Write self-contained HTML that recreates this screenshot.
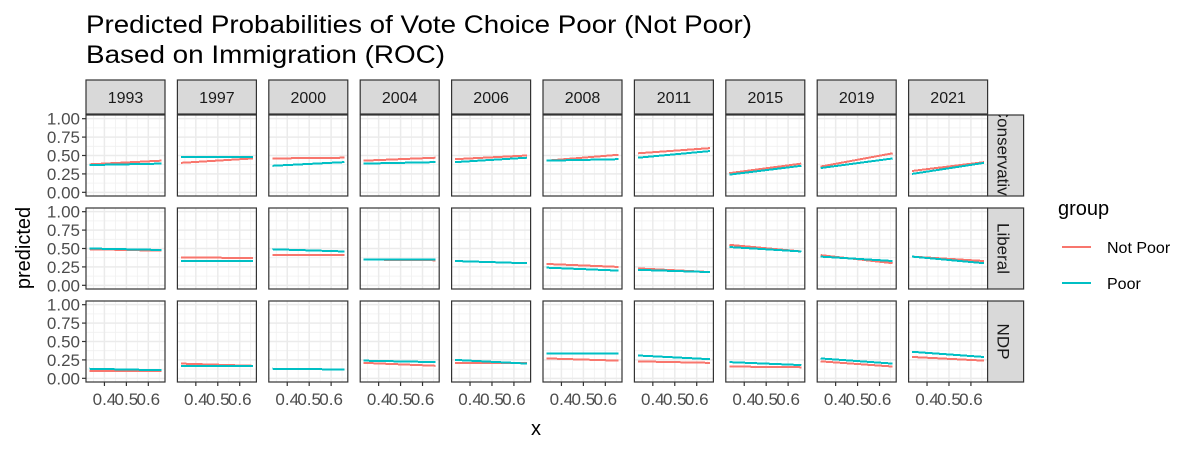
<!DOCTYPE html>
<html><head><meta charset="utf-8"><style>
body{margin:0;background:#fff;}
svg{display:block;font-family:"Liberation Sans",Arial,sans-serif;}
</style></head><body>
<svg id="chart" width="1200" height="450" viewBox="0 0 1200 450">
<text x="86" y="33" font-size="25" textLength="666" lengthAdjust="spacingAndGlyphs" fill="#000">Predicted Probabilities of Vote Choice Poor (Not Poor)</text>
<text x="86" y="63" font-size="25" textLength="359" lengthAdjust="spacingAndGlyphs" fill="#000">Based on Immigration (ROC)</text>
<text transform="translate(30,248) rotate(-90)" text-anchor="middle" font-size="20">predicted</text>
<text x="536" y="435" text-anchor="middle" font-size="20">x</text>
<g id="panels"></g>
<g>
<text x="1058" y="215" font-size="20">group</text>
<line x1="1062" x2="1091" y1="247" y2="247" stroke="#F8766D" stroke-width="2"/>
<text x="1107" y="253" font-size="16">Not Poor</text>
<line x1="1062" x2="1091" y1="283" y2="283" stroke="#00BFC4" stroke-width="2"/>
<text x="1107" y="289" font-size="16">Poor</text>
</g>
</svg>
<script>
const years = ["1993","1997","2000","2004","2006","2008","2011","2015","2019","2021"];
const parties = ["Conservative","Liberal","NDP"];
const xStartEnd = [0.332, 0.66];
const xTicks = [0.4, 0.5, 0.6];
const xTickLabels = ["0.4","0.5","0.6"];
const yTicks = [0, 0.25, 0.5, 0.75, 1];
const yTickLabels = ["0.00","0.25","0.50","0.75","1.00"];
// [start,end] per year
const consNotPoor = [[0.38,0.43],[0.40,0.46],[0.46,0.47],[0.43,0.47],[0.45,0.50],[0.43,0.51],[0.53,0.60],[0.26,0.39],[0.35,0.53],[0.29,0.41]];
const consPoor    = [[0.37,0.39],[0.48,0.48],[0.36,0.41],[0.39,0.41],[0.41,0.47],[0.43,0.45],[0.47,0.56],[0.24,0.36],[0.33,0.46],[0.25,0.40]];
const libNotPoor  = [[0.49,0.47],[0.38,0.37],[0.41,0.41],[0.35,0.34],[0.33,0.30],[0.29,0.25],[0.23,0.18],[0.55,0.46],[0.41,0.30],[0.39,0.33]];
const libPoor     = [[0.50,0.48],[0.33,0.33],[0.49,0.46],[0.35,0.35],[0.33,0.30],[0.24,0.20],[0.21,0.18],[0.52,0.46],[0.39,0.33],[0.39,0.30]];
const ndpNotPoor  = [[0.10,0.10],[0.20,0.17],[0.13,0.12],[0.21,0.17],[0.21,0.21],[0.27,0.24],[0.23,0.21],[0.16,0.15],[0.23,0.16],[0.29,0.24]];
const ndpPoor     = [[0.13,0.11],[0.17,0.17],[0.13,0.12],[0.24,0.22],[0.25,0.20],[0.34,0.34],[0.31,0.26],[0.22,0.18],[0.27,0.20],[0.36,0.29]];
const notPoorSeries = [consNotPoor, libNotPoor, ndpNotPoor];
const poorSeries = [consPoor, libPoor, ndpPoor];

const NS="http://www.w3.org/2000/svg";
const g=document.getElementById('panels');
const PW=79, pitch=91.4, px0=86;
const rowTop=[115,208,301], PH=81;
const xmin=0.316,xmax=0.676, ymin=-0.05, ymax=1.05;
function X(c,v){return px0+c*pitch+(v-xmin)/(xmax-xmin)*PW;}
function Y(r,v){return rowTop[r]+PH-(v-ymin)/(ymax-ymin)*PH;}
function el(t,a,p){const e=document.createElementNS(NS,t);for(const k in a)e.setAttribute(k,a[k]);(p||g).appendChild(e);return e;}
const stripLabels=["Conservative","Liberal","NDP"];
for(let c=0;c<years.length;c++){
  const x0=px0+c*pitch;
  const s=el('rect',{x:x0,y:80,width:PW,height:34,fill:'#d9d9d9',stroke:'#333','stroke-width':1.2});
  
  
  const st=el('text',{x:x0+PW/2,y:103,'text-anchor':'middle','font-size':16,fill:'#1a1a1a'});
  st.textContent=years[c];
  
  
  for(let r=0;r<3;r++){
    const y0=rowTop[r];
    const bg=el('rect',{x:x0,y:y0,width:PW,height:PH,fill:'#fff'});
    
    
    [0.35,0.45,0.55,0.65].forEach(v=>el('line',{x1:X(c,v),x2:X(c,v),y1:y0,y2:y0+PH,stroke:'#f0f0f0','stroke-width':0.8}));
    [0.125,0.375,0.625,0.875].forEach(v=>el('line',{x1:x0,x2:x0+PW,y1:Y(r,v),y2:Y(r,v),stroke:'#f0f0f0','stroke-width':0.8}));
    xTicks.forEach(v=>el('line',{x1:X(c,v),x2:X(c,v),y1:y0,y2:y0+PH,stroke:'#ebebeb','stroke-width':1.5}));
    yTicks.forEach(v=>el('line',{x1:x0,x2:x0+PW,y1:Y(r,v),y2:Y(r,v),stroke:'#ebebeb','stroke-width':1.5}));
    const a=notPoorSeries[r][c], b=poorSeries[r][c];
    const l1=el('line',{x1:X(c,xStartEnd[0]),x2:X(c,xStartEnd[1]),y1:Y(r,a[0]),y2:Y(r,a[1]),stroke:'#F8766D','stroke-width':2,'shape-rendering':'crispEdges'});
    
    
    const l2=el('line',{x1:X(c,xStartEnd[0]),x2:X(c,xStartEnd[1]),y1:Y(r,b[0]),y2:Y(r,b[1]),stroke:'#00BFC4','stroke-width':2,'shape-rendering':'crispEdges'});
    
    
    el('rect',{x:x0,y:y0,width:PW,height:PH,fill:'none',stroke:'#333','stroke-width':1.2});
    if(c===0){
      yTicks.forEach((v,i)=>{
        el('line',{x1:x0-4,x2:x0,y1:Y(r,v),y2:Y(r,v),stroke:'#333','stroke-width':1.2});
        const t=el('text',{x:x0-6,y:Y(r,v)+6,'text-anchor':'end','font-size':17,fill:'#4d4d4d'});
        t.textContent=yTickLabels[i];
        
        
      });
    }
    if(r===2){
      xTicks.forEach((v,i)=>{
        el('line',{x1:X(c,v),x2:X(c,v),y1:y0+PH,y2:y0+PH+4,stroke:'#333','stroke-width':1.2});
        const t=el('text',{x:X(c,v),y:405,'text-anchor':'middle','font-size':17,fill:'#4d4d4d'});
        t.textContent=xTickLabels[i];
        
        
      });
    }
  }
}
const cx=px0+9*pitch+PW;
for(let r=0;r<3;r++){
  const y0=rowTop[r];
  const sg=el('g',{});
  const cp=el('clipPath',{id:'cp'+r},sg);
  el('rect',{x:cx,y:y0,width:36,height:PH},cp);
  const s=el('rect',{x:cx,y:y0,width:36,height:PH,fill:'#d9d9d9',stroke:'#333','stroke-width':1.2},sg);
  
  
  const cg=el('g',{'clip-path':`url(#cp${r})`},sg);
  const t=el('text',{transform:`translate(${cx+10},${y0+PH/2}) rotate(90)`,'text-anchor':'middle','font-size':17,fill:'#1a1a1a'},cg);
  t.textContent=stripLabels[r];
  
  
}
</script>
</body></html>
